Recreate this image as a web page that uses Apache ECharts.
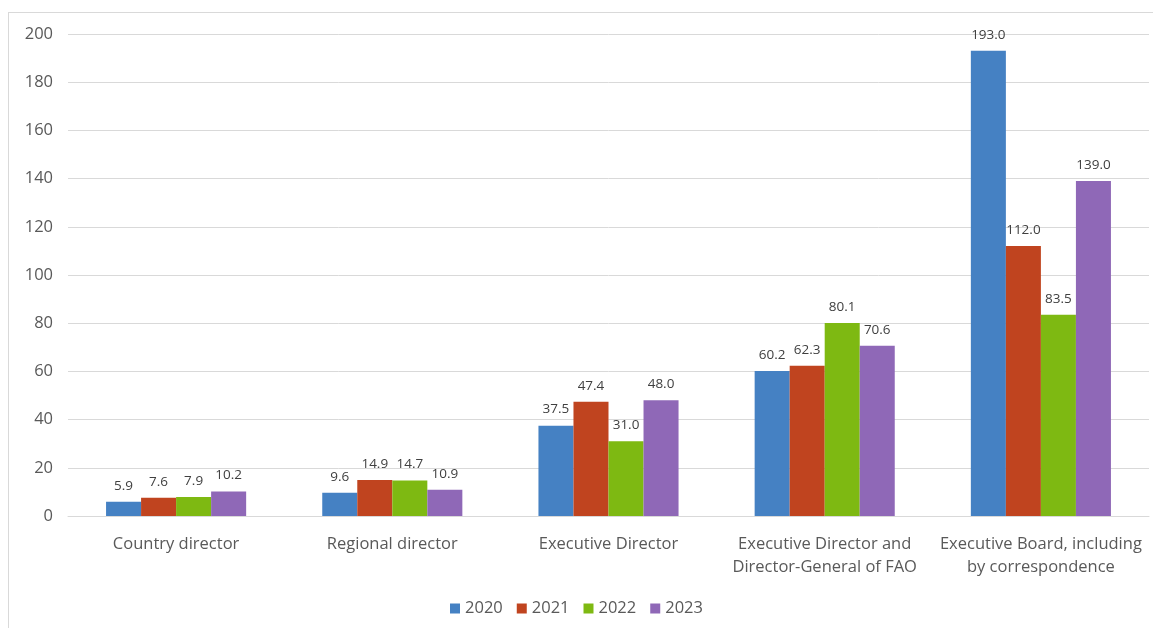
<!DOCTYPE html>
<html><head><meta charset="utf-8">
<script src="https://cdn.jsdelivr.net/npm/echarts@6/dist/echarts.min.js"></script>
<style>
html,body{margin:0;padding:0;background:#fff;}
#frame{position:absolute;left:8px;top:12px;width:1150px;height:620px;border:1px solid #d9d9d9;box-sizing:border-box;}
#c{position:absolute;left:0;top:0;width:1153px;height:628px;}
</style></head>
<body><div id="frame"></div><div id="c"></div>
<script>
const categories = ["Country director","Regional director","Executive Director","Executive Director and\nDirector-General of FAO","Executive Board, including\nby correspondence"];
const years = ["2020","2021","2022","2023"];
const v2020 = [5.9, 9.6, 37.5, 60.2, 193.0];
const v2021 = [7.6, 14.9, 47.4, 62.3, 112.0];
const v2022 = [7.9, 14.7, 31.0, 80.1, 83.5];
const v2023 = [10.2, 10.9, 48.0, 70.6, 139.0];
const yTicks = [0,20,40,60,80,100,120,140,160,180,200];
const colors = ["#4581C3","#C0441F","#7EB912","#8F68B7"];
const seriesData = [v2020, v2021, v2022, v2023];

const chart = echarts.init(document.getElementById('c'));
chart.setOption({
  animation:false,
  textStyle:{fontFamily:'Open Sans'},
  grid:{left:68,right:4,top:34,bottom:112,containLabel:false},
  legend:{bottom:6,left:'center',itemWidth:10,itemHeight:10,itemGap:14,icon:'rect',
    textStyle:{fontSize:16.5,color:'#595959',fontFamily:'Open Sans'},data:years},
  xAxis:{type:'category',data:categories,
    axisLine:{lineStyle:{color:'#d9d9d9'}},axisTick:{show:false},
    axisLabel:{fontSize:16.5,color:'#595959',lineHeight:23,margin:17,interval:0}},
  yAxis:{type:'value',min:yTicks[0],max:yTicks[yTicks.length-1],interval:20,
    axisLine:{show:false},axisTick:{show:false},
    splitLine:{lineStyle:{color:'#d9d9d9'}},
    axisLabel:{fontSize:16.5,color:'#595959',margin:15}},
  series: years.map((y,i)=>({
    name:y,type:'bar',data:seriesData[i],barWidth:'16.2%',barGap:'0%',
    itemStyle:{color:colors[i]},
    label:{show:true,position:'top',distance:9,fontSize:13.5,color:'#404040',
      formatter:p=>p.value.toFixed(1)}
  }))
});
</script></body></html>
